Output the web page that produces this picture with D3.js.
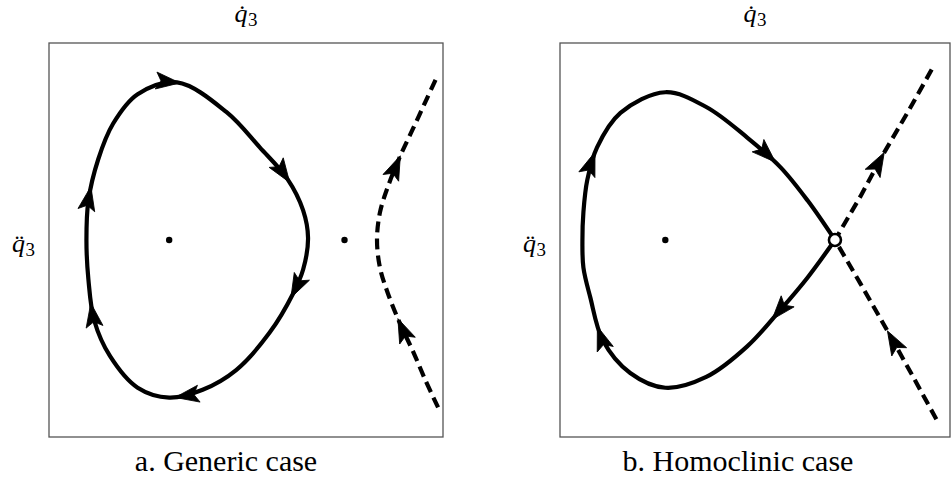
<!DOCTYPE html>
<html>
<head>
<meta charset="utf-8">
<script src="https://cdn.jsdelivr.net/npm/d3@7"></script>
<style>
  body { margin: 0; background: #fff; }
  svg { display: block; }
</style>
</head>
<body>
<div id="chart"></div>
<script>
// phase-plane coordinates, each box spans [-1, 1] x [-1, 1]

// a. generic case
const genericOrbit = [
  [-0.35, 0.80], [-0.10, 0.65], [0.07, 0.47], [0.21, 0.31], [0.29, 0.15],
  [0.315, 0.01], [0.29, -0.15], [0.24, -0.27], [0.12, -0.47], [-0.05, -0.66],
  [-0.22, -0.76], [-0.39, -0.80], [-0.55, -0.75], [-0.69, -0.59], [-0.77, -0.41],
  [-0.80, -0.20], [-0.81, 0.00], [-0.80, 0.20], [-0.75, 0.41], [-0.675, 0.59],
  [-0.55, 0.74]
];
const genericSeparatrix = [
  [0.975, -0.85], [0.91, -0.71], [0.85, -0.57], [0.78, -0.42], [0.72, -0.27],
  [0.68, -0.14], [0.665, 0.00], [0.68, 0.14], [0.72, 0.27], [0.78, 0.42],
  [0.85, 0.57], [0.91, 0.70], [0.975, 0.84]
];
const genericOrbitArrows = [
  [-0.335, 0.80], [0.22, 0.29], [0.22, -0.29], [-0.36, -0.79], [-0.78, -0.32], [-0.78, 0.27]
];
const genericSepArrows = [[0.78, 0.43], [0.77, -0.40]];
const genericCenters = [[-0.39, 0.0], [0.50, 0.0]];

// b. homoclinic case
const homoclinicOrbit = [
  [0.41, 0.00], [0.27, -0.19], [0.13, -0.355], [-0.04, -0.54], [-0.25, -0.695],
  [-0.46, -0.75], [-0.64, -0.675], [-0.78, -0.51], [-0.845, -0.29], [-0.88, -0.14],
  [-0.885, 0.00], [-0.88, 0.14], [-0.86, 0.305], [-0.81, 0.47], [-0.69, 0.645],
  [-0.46, 0.75], [-0.25, 0.675], [-0.04, 0.52], [0.13, 0.37], [0.27, 0.20],
  [0.41, 0.00]
];
const homoclinicSeparatrix = [
  [0.93, -0.91], [0.80, -0.675], [0.67, -0.445], [0.54, -0.22], [0.41, 0.00],
  [0.54, 0.22], [0.66, 0.44], [0.79, 0.66], [0.92, 0.89]
];
const homoclinicOrbitArrows = [[0.11, 0.40], [0.10, -0.415], [-0.83, 0.45], [-0.81, -0.44]];
const homoclinicSepArrows = [[0.655, 0.45], [0.68, -0.46]];
const homoclinicCenters = [[-0.46, 0.0]];
const homoclinicSaddle = [0.41, 0.0];

const captions = ["a. Generic case", "b. Homoclinic case"];

const panels = [
  { left: 49, right: 443, top: 43, bottom: 437, caption: captions[0], capShift: -20,
    orbit: genericOrbit, closed: true, orbitArrows: genericOrbitArrows,
    sep: genericSeparatrix, sepCurve: d3.curveCatmullRom, sepArrows: genericSepArrows,
    dots: genericCenters, saddle: null },
  { left: 560, right: 950, top: 43, bottom: 437, caption: captions[1], capShift: -17,
    orbit: homoclinicOrbit, closed: false, orbitArrows: homoclinicOrbitArrows,
    sep: homoclinicSeparatrix, sepCurve: d3.curveLinear, sepArrows: homoclinicSepArrows,
    dots: homoclinicCenters, saddle: homoclinicSaddle }
];

const width = 951, height = 478;
const serif = "Liberation Serif";

const svg = d3.select("#chart").append("svg")
    .attr("width", width)
    .attr("height", height)
    .attr("viewBox", [0, 0, width, height]);

// stealth style arrow head, tip at the origin pointing along +x
const headLen = 24, headW = 17, notch = 5;
const headPath = `M0,0L${-headLen},${-headW / 2}L${-headLen + notch},0L${-headLen},${headW / 2}Z`;

function addArrows(g, pathNode, tips, x, y) {
    const total = pathNode.getTotalLength();
    tips.forEach(t => {
        const tx = x(t[0]), ty = y(t[1]);
        let best = 0, bestD = Infinity;
        for (let s = 0; s <= total; s += 0.5) {
            const p = pathNode.getPointAtLength(s);
            const d = (p.x - tx) ** 2 + (p.y - ty) ** 2;
            if (d < bestD) { bestD = d; best = s; }
        }
        const p = pathNode.getPointAtLength(best);
        const a = pathNode.getPointAtLength(Math.max(0, best - 10));
        const b = pathNode.getPointAtLength(Math.min(total, best + 2));
        const ang = Math.atan2(b.y - a.y, b.x - a.x) * 180 / Math.PI;
        g.append("path")
            .attr("d", headPath)
            .attr("fill", "#000")
            .attr("stroke", "#000")
            .attr("stroke-width", 0.8)
            .attr("stroke-linejoin", "miter")
            .attr("transform", `translate(${p.x},${p.y}) rotate(${ang})`);
    });
}

// q with a dot accent (combining mark) and subscript 3; qEnd is the right edge of the q
function mathLabel(g, qEnd, baseline, accent) {
    g.append("text")
        .attr("x", qEnd).attr("y", baseline)
        .attr("text-anchor", "end")
        .attr("font-family", serif)
        .attr("font-style", "italic")
        .attr("font-size", 26)
        .text("q" + accent);
    g.append("text")
        .attr("x", qEnd + 0.5).attr("y", baseline + 4)
        .attr("font-family", serif)
        .attr("font-size", 19)
        .text("3");
}

panels.forEach(p => {
    const x = d3.scaleLinear().domain([-1, 1]).range([p.left, p.right]);
    const y = d3.scaleLinear().domain([-1, 1]).range([p.bottom, p.top]);
    const g = svg.append("g");

    g.append("rect")
        .attr("x", x(-1)).attr("y", y(1))
        .attr("width", x(1) - x(-1)).attr("height", y(-1) - y(1))
        .attr("fill", "none")
        .attr("stroke", "#555")
        .attr("stroke-width", 1.3);

    const orbitLine = d3.line()
        .x(d => x(d[0])).y(d => y(d[1]))
        .curve(p.closed ? d3.curveCatmullRomClosed : d3.curveCatmullRom);

    const orbit = g.append("path")
        .attr("d", orbitLine(p.orbit))
        .attr("fill", "none")
        .attr("stroke", "#000")
        .attr("stroke-width", 4.2)
        .attr("stroke-linejoin", "round");

    const sepLine = d3.line()
        .x(d => x(d[0])).y(d => y(d[1]))
        .curve(p.sepCurve);

    const sep = g.append("path")
        .attr("d", sepLine(p.sep))
        .attr("fill", "none")
        .attr("stroke", "#000")
        .attr("stroke-width", 4.2)
        .attr("stroke-dasharray", "11,6");

    addArrows(g, orbit.node(), p.orbitArrows, x, y);
    addArrows(g, sep.node(), p.sepArrows, x, y);

    g.selectAll("circle.eq")
        .data(p.dots)
        .join("circle")
        .attr("class", "eq")
        .attr("cx", d => x(d[0])).attr("cy", d => y(d[1]))
        .attr("r", 3.2)
        .attr("fill", "#000");

    if (p.saddle) {
        g.append("circle")
            .attr("cx", x(p.saddle[0])).attr("cy", y(p.saddle[1]))
            .attr("r", 6)
            .attr("fill", "#fff")
            .attr("stroke", "#000")
            .attr("stroke-width", 2.6);
    }

    const cx = (x(-1) + x(1)) / 2;
    mathLabel(g, cx + 1.5, 22, "\u0307");
    mathLabel(g, x(-1) - 24, 252, "\u0308");

    g.append("text")
        .attr("x", cx + p.capShift).attr("y", 471)
        .attr("text-anchor", "middle")
        .attr("font-family", serif)
        .attr("font-size", 30)
        .text(p.caption);
});
</script>
</body>
</html>
